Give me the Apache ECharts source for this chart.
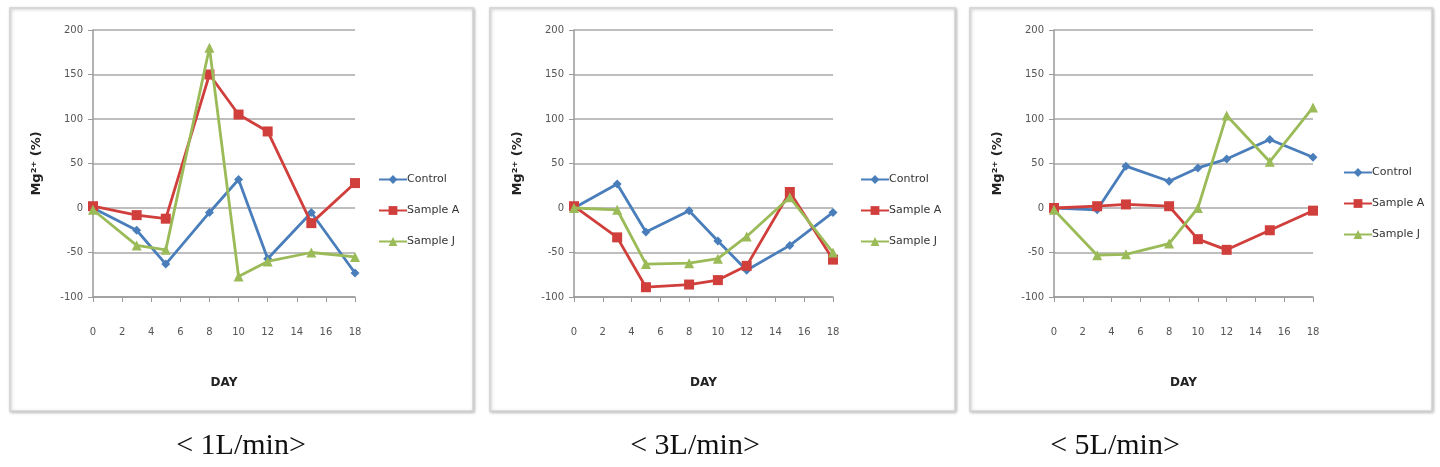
<!DOCTYPE html>
<html>
<head>
<meta charset="utf-8">
<script src="https://cdn.jsdelivr.net/npm/echarts@6/dist/echarts.min.js"></script>
<style>html,body{margin:0;padding:0;background:#fff;}#c{width:1440px;height:467px;}</style>
</head>
<body>
<div id="c"></div>
<script>
var days = [0, 3, 5, 8, 10, 12, 15, 18];
var seriesNames = ['Control', 'Sample A', 'Sample J'];
var xTicks = [0, 2, 4, 6, 8, 10, 12, 14, 16, 18];
var yTicks = [-100, -50, 0, 50, 100, 150, 200];
var captions = ['< 1L/min>', '< 3L/min>', '< 5L/min>'];

// 1 L/min
var control1 = [0, -25, -63, -5, 32, -57, -5, -73];
var sampleA1 = [2, -8, -12, 150, 105, 86, -17, 28];
var sampleJ1 = [-2, -42, -47, 180, -77, -60, -50, -55];
// 3 L/min
var control3 = [0, 27, -27, -3, -37, -70, -42, -5];
var sampleA3 = [2, -33, -89, -86, -81, -65, 18, -58];
var sampleJ3 = [0, -2, -63, -62, -57, -32, 12, -50];
// 5 L/min
var control5 = [0, -2, 47, 30, 45, 55, 77, 57];
var sampleA5 = [0, 2, 4, 2, -35, -47, -25, -3];
var sampleJ5 = [-2, -53, -52, -40, 0, 104, 52, 113];

var panels = [
  [control1, sampleA1, sampleJ1],
  [control3, sampleA3, sampleJ3],
  [control5, sampleA5, sampleJ5]
];

var colors = ['#4a7ebb', '#d03f3c', '#9bbb59'];
var symbols = ['diamond', 'rect', 'triangle'];
var symbolSizes = [9, 10, 10];

var boxes = [[10, 473], [490, 955], [970, 1432]];
var gridLeft = [93, 574, 1054];
var gridWidth = [262, 259, 259];
var legendLeft = [373, 855, 1338];
var legendTop = [169, 169, 162];
var captionX = [241, 695, 1115];

var grids = [], xAxes = [], yAxes = [], series = [], legends = [], graphics = [];

for (var p = 0; p < 3; p++) {
  graphics.push({
    type: 'rect', z: -10,
    shape: {x: boxes[p][0], y: 8, width: boxes[p][1] - boxes[p][0], height: 403},
    style: {fill: '#fff', stroke: '#d4d4d4', lineWidth: 1.5,
      shadowBlur: 3, shadowColor: 'rgba(0,0,0,0.25)', shadowOffsetX: 1, shadowOffsetY: 1}
  });
  graphics.push({
    type: 'text', z: 10,
    x: captionX[p], y: 446,
    style: {text: captions[p], font: '30px "Liberation Serif"', fill: '#111',
      align: 'center', verticalAlign: 'middle'}
  });
  grids.push({left: gridLeft[p], top: 30, width: gridWidth[p], height: 267});
  xAxes.push({
    type: 'value', gridIndex: p, min: 0, max: 18, interval: 2,
    name: 'DAY', nameLocation: 'middle', nameGap: 80,
    nameTextStyle: {fontFamily: 'DejaVu Sans', fontWeight: 'bold', fontSize: 12, color: '#222'},
    axisLine: {show: true, onZero: false, lineStyle: {color: '#9a9a9a', width: 1.5}},
    axisTick: {show: true, length: 5, lineStyle: {color: '#9a9a9a'}},
    axisLabel: {margin: 30, fontSize: 10, color: '#555', fontFamily: 'DejaVu Sans'},
    splitLine: {show: false}
  });
  yAxes.push({
    type: 'value', gridIndex: p, min: -100, max: 200, interval: 50,
    name: 'Mg²⁺ (%)', nameLocation: 'middle', nameGap: 50, nameRotate: 90,
    nameTextStyle: {fontFamily: 'DejaVu Sans', fontWeight: 'bold', fontSize: 13, color: '#222'},
    axisLine: {show: true, lineStyle: {color: '#9a9a9a', width: 1.5}},
    axisTick: {show: true, length: 5, lineStyle: {color: '#9a9a9a'}},
    axisLabel: {margin: 10, fontSize: 10, color: '#555', fontFamily: 'DejaVu Sans'},
    splitLine: {show: true, lineStyle: {color: '#a8a8a8', width: 1.5}}
  });
  legends.push({
    left: legendLeft[p], top: legendTop[p], orient: 'vertical',
    itemWidth: 28, itemHeight: 11, itemGap: 20,
    textStyle: {fontSize: 11, color: '#333', fontFamily: 'DejaVu Sans', padding: [0, 0, 0, -5]},
    data: seriesNames,
    selectedMode: false
  });
  for (var s = 0; s < 3; s++) {
    var vals = panels[p][s];
    var data = [];
    for (var i = 0; i < days.length; i++) data.push([days[i], vals[i]]);
    series.push({
      type: 'line', name: seriesNames[s], xAxisIndex: p, yAxisIndex: p,
      data: data, symbol: symbols[s], symbolSize: symbolSizes[s],
      color: colors[s],
      lineStyle: {width: 2.8, color: colors[s]},
      itemStyle: {color: colors[s]},
      z: 3 + s, animation: false
    });
  }
}

var chart = echarts.init(document.getElementById('c'));
chart.setOption({
  animation: false,
  backgroundColor: '#fff',
  grid: grids, xAxis: xAxes, yAxis: yAxes,
  legend: legends, series: series, graphic: graphics
});
</script>
</body>
</html>
